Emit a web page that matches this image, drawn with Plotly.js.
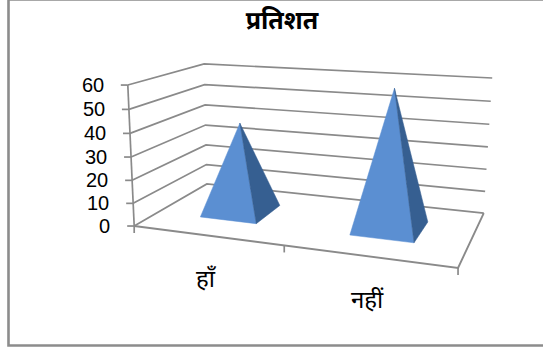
<!DOCTYPE html>
<html>
<head>
<meta charset="utf-8">
<script src="https://cdn.plot.ly/plotly-3.0.1.min.js"></script>
<style>html,body{margin:0;padding:0;background:#fff}#chart{width:543px;height:347px}</style>
</head>
<body>
<div id="chart"></div>
<script>
// Survey result: share of answers per category, drawn as 3-D pyramids.
const chartTitle = 'प्रतिशत';
const categories = ['हाँ', 'नहीं'];
const values = [40, 59];
const tickValues = [0, 10, 20, 30, 40, 50, 60];
const valueMax = 60;

// Pixel positions of the box corners: [category pos, value/max, depth] -> [x, y]
const boxCorners = [
  [[0, 0, 0], [135, 226]],
  [[2, 0, 0], [458, 268]],
  [[0, 0, 1], [206, 184]],
  [[2, 0, 1], [484, 213]],
  [[0, 1, 1], [205, 64]],
  [[2, 1, 1], [492, 78]],
  [[0, 1, 0], [127, 85]]
];

// Least-squares fit of a 3x4 perspective camera to the box corners.
function fitCamera(pairs) {
  const rows = [], rhs = [];
  pairs.forEach(([[X, Y, Z], [x, y]]) => {
    rows.push([X, Y, Z, 1, 0, 0, 0, 0, -x * X, -x * Y, -x * Z]); rhs.push(x);
    rows.push([0, 0, 0, 0, X, Y, Z, 1, -y * X, -y * Y, -y * Z]); rhs.push(y);
  });
  const n = 11;
  const M = Array.from({length: n}, (_, i) => {
    const r = new Array(n + 1).fill(0);
    rows.forEach((row, k) => {
      for (let j = 0; j < n; j++) r[j] += row[i] * row[j];
      r[n] += row[i] * rhs[k];
    });
    return r;
  });
  for (let c = 0; c < n; c++) {
    let p = c;
    for (let r = c + 1; r < n; r++) if (Math.abs(M[r][c]) > Math.abs(M[p][c])) p = r;
    [M[c], M[p]] = [M[p], M[c]];
    for (let r = 0; r < n; r++) {
      if (r === c) continue;
      const f = M[r][c] / M[c][c];
      for (let j = c; j <= n; j++) M[r][j] -= f * M[c][j];
    }
  }
  return M.map((r, i) => r[n] / r[i]);
}
const cam = fitCamera(boxCorners);
function project(u, value, d) {
  const v = value / valueMax;
  const w = cam[8] * u + cam[9] * v + cam[10] * d + 1;
  return [(cam[0] * u + cam[1] * v + cam[2] * d + cam[3]) / w,
          (cam[4] * u + cam[5] * v + cam[6] * d + cam[7]) / w];
}

const GRID = '#8a8a8a';
const traces = [];
function path(points, color, width) {
  traces.push({
    type: 'scatter', mode: 'lines', hoverinfo: 'skip', showlegend: false,
    x: points.map(p => p[0]), y: points.map(p => p[1]),
    line: {color: color, width: width, simplify: false}
  });
}
function face(points, color, name) {
  const closed = points.concat([points[0]]);
  traces.push({
    type: 'scatter', mode: 'lines', fill: 'toself', fillcolor: color, name: name,
    hoverinfo: 'name', showlegend: false,
    x: closed.map(p => p[0]), y: closed.map(p => p[1]),
    line: {color: color, width: 0.5}
  });
}

// Gridlines run along the side wall and then the back wall.
tickValues.forEach(t => {
  path([project(0, t, 0), project(0, t, 1), project(2, t, 1)], GRID, 1.7);
  const a = project(0, t, 0);
  path([[a[0] - 7, a[1]], a], GRID, 1.7);
});
// Vertical axis and the floor outline.
path([project(0, valueMax, 0), project(0, 0, 0)], GRID, 1.7);
path([project(0, 0, 0), project(2, 0, 0), project(2, 0, 1)], GRID, 1.9);
// Category tick marks below the front edge.
[0, 1, 2].forEach(u => {
  const a = project(u, 0, 0);
  path([a, [a[0], a[1] + 7]], GRID, 1.7);
});

// One pyramid per category.
const halfW = 0.195, halfD = 0.2;
categories.forEach((name, i) => {
  const u = i + 0.5, d = 0.5;
  const apex = project(u, values[i], d);
  const fl = project(u - halfW, 0, d - halfD);
  const fr = project(u + halfW, 0, d - halfD);
  const br = project(u + halfW, 0, d + halfD);
  face([fl, fr, apex], '#5b8fd2', name + ': ' + values[i]);
  face([fr, br, apex], '#365f91', name + ': ' + values[i]);
});

const LABEL_FONT = '"Noto Sans", "Liberation Sans", sans-serif';
const annotations = [];
tickValues.forEach(t => {
  const a = project(0, t, 0);
  annotations.push({
    x: a[0] - 7, y: a[1], xref: 'x', yref: 'y', text: String(t), showarrow: false,
    xanchor: 'right', yanchor: 'middle', xshift: -15,
    font: {family: '"Liberation Sans", Arial, sans-serif', size: 20, color: '#000'}
  });
});
categories.forEach((name, i) => {
  const a = project(i + 0.5, 0, 0);
  annotations.push({
    x: a[0], y: a[1], xref: 'x', yref: 'y', text: name, showarrow: false,
    xanchor: 'center', yanchor: 'middle', yshift: -42,
    font: {family: LABEL_FONT, size: 24, color: '#000'}
  });
});

const layout = {
  width: 543, height: 347,
  margin: {l: 0, r: 0, t: 0, b: 0},
  paper_bgcolor: '#fff', plot_bgcolor: '#fff',
  showlegend: false,
  title: {text: '<b>' + chartTitle + '</b>', x: 282 / 543, y: 1 - 20 / 347, xanchor: 'center', yanchor: 'middle',
          font: {family: LABEL_FONT, size: 25, color: '#000'}},
  xaxis: {range: [0, 543], visible: false, fixedrange: true},
  yaxis: {range: [347, 0], visible: false, fixedrange: true},
  annotations: annotations,
  // Chart area frame
  shapes: [{type: 'rect', xref: 'paper', yref: 'paper',
            x0: 8.5 / 543, x1: 1.02, y0: 1 - 345.5 / 347, y1: 1 + 0.5 / 347,
            line: {color: '#8c8c8c', width: 2.6}, fillcolor: 'rgba(0,0,0,0)'}]
};
Plotly.newPlot('chart', traces, layout, {displayModeBar: false, staticPlot: true});
</script>
</body>
</html>
